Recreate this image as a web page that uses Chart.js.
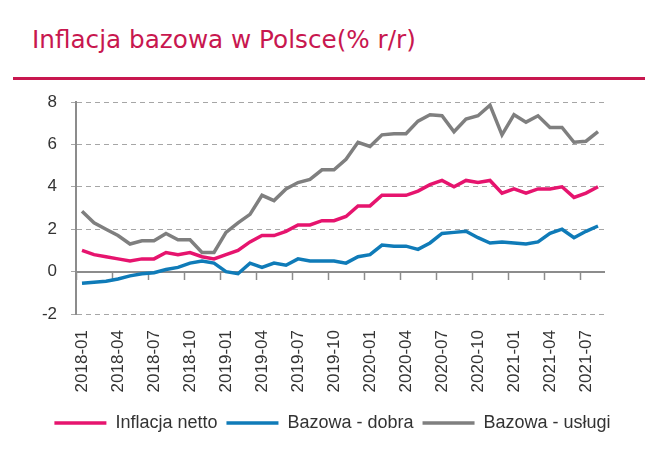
<!DOCTYPE html>
<html><head><meta charset="utf-8">
<script src="https://cdn.jsdelivr.net/npm/chart.js@4"></script>
<style>
html,body{margin:0;padding:0;background:#fff;}
#wrap{position:relative;width:653px;height:450px;overflow:hidden;background:#fff;}
#title{position:absolute;left:32px;top:26px;font-family:"DejaVu Sans";font-size:24.7px;line-height:28px;color:#c8174f;white-space:nowrap;}
#rule{position:absolute;left:13px;top:77px;width:632px;height:3px;background:#c8174f;}
canvas{position:absolute;left:0;top:0;}
</style></head><body>
<div id="wrap">
<div id="title">Inflacja bazowa w Polsce(% r/r)</div>
<div id="rule"></div>
<canvas id="c" width="653" height="450"></canvas>
</div>
<script>
const months = [
  "2018-01","2018-02","2018-03","2018-04","2018-05","2018-06","2018-07","2018-08","2018-09","2018-10","2018-11","2018-12",
  "2019-01","2019-02","2019-03","2019-04","2019-05","2019-06","2019-07","2019-08","2019-09","2019-10","2019-11","2019-12",
  "2020-01","2020-02","2020-03","2020-04","2020-05","2020-06","2020-07","2020-08","2020-09","2020-10","2020-11","2020-12",
  "2021-01","2021-02","2021-03","2021-04","2021-05","2021-06","2021-07","2021-08"
];
const inflacjaNetto = [
  1.0,0.8,0.7,0.6,0.5,0.6,0.6,0.9,0.8,0.9,0.7,0.6,
  0.8,1.0,1.4,1.7,1.7,1.9,2.2,2.2,2.4,2.4,2.6,3.1,
  3.1,3.6,3.6,3.6,3.8,4.1,4.3,4.0,4.3,4.2,4.3,3.7,
  3.9,3.7,3.9,3.9,4.0,3.5,3.7,4.0
];
const bazowaDobra = [
  -0.55,-0.5,-0.45,-0.35,-0.2,-0.1,-0.05,0.1,0.2,0.4,0.5,0.4,
  0.0,-0.1,0.4,0.2,0.4,0.3,0.6,0.5,0.5,0.5,0.4,0.7,
  0.8,1.25,1.2,1.2,1.05,1.35,1.8,1.85,1.9,1.6,1.35,1.4,
  1.35,1.3,1.4,1.8,2.0,1.6,1.9,2.15
];
const bazowaUslugi = [
  2.85,2.3,2.0,1.7,1.3,1.45,1.45,1.8,1.5,1.5,0.9,0.9,
  1.85,2.3,2.7,3.6,3.35,3.9,4.2,4.35,4.8,4.8,5.3,6.1,
  5.9,6.45,6.5,6.5,7.1,7.4,7.35,6.6,7.2,7.35,7.85,6.45,
  7.4,7.05,7.35,6.8,6.8,6.1,6.15,6.6
];
const seriesNames = ["Inflacja netto","Bazowa - dobra","Bazowa - usługi"];
const seriesColors = ["#e6146e","#0f7bb8","#7f7f7f"];
const yMin = -2, yMax = 8, yStep = 2;
const labelEvery = 3;

const axisGrey = "#8c8c8c";
const gridGrey = "#a6a6a6";
const txt = "#333333";

new Chart(document.getElementById("c"), {
  type: "line",
  data: {
    labels: months,
    datasets: [inflacjaNetto, bazowaDobra, bazowaUslugi].map((d, i) => ({
      label: seriesNames[i],
      data: d,
      borderColor: seriesColors[i],
      backgroundColor: seriesColors[i],
      borderWidth: 3.5,
      pointRadius: 0,
      pointHoverRadius: 0,
      pointStyle: "line",
      tension: 0,
      fill: false
    }))
  },
  options: {
    responsive: false,
    animation: false,
    devicePixelRatio: 1,
    layout: { padding: { left: 20, right: 8, top: 102, bottom: 8 } },
    plugins: {
      tooltip: { enabled: false },
      legend: {
        position: "bottom",
        labels: {
          usePointStyle: true,
          pointStyle: "line",
          pointStyleWidth: 52,
          boxHeight: 18,
          padding: 9,
          color: txt,
          font: { family: "Liberation Sans", size: 18 }
        }
      }
    },
    scales: {
      x: {
        type: "category",
        offset: true,
        grid: { display: false, drawTicks: false },
        border: { display: false },
        ticks: {
          autoSkip: false,
          maxRotation: 90,
          minRotation: 90,
          padding: 16,
          color: txt,
          font: { family: "Liberation Sans", size: 17 },
          callback: function (v, i) { return i % labelEvery === 0 ? months[i] : ""; }
        },
        afterFit: function (s) { s.height = 91; }
      },
      x2: {
        type: "category",
        position: { y: 0 },
        offset: true,
        grid: {
          offset: true,
          drawOnChartArea: false,
          drawTicks: true,
          tickLength: 7,
          tickWidth: 1.5,
          tickColor: function (c) { return (c.index !== undefined && c.index % labelEvery === 0) ? axisGrey : "rgba(0,0,0,0)"; }
        },
        border: { display: true, color: axisGrey, width: 2 },
        ticks: { display: false, autoSkip: false }
      },
      y: {
        min: yMin,
        max: yMax,
        ticks: {
          stepSize: yStep,
          padding: 14,
          color: txt,
          font: { family: "Liberation Sans", size: 17 }
        },
        grid: { color: gridGrey, lineWidth: 1, drawTicks: true, tickLength: 5, tickColor: gridGrey },
        border: { display: true, color: axisGrey, width: 2, dash: [5, 4] },
        afterFit: function (s) { s.width = 56; }
      },
      y2: {
        position: "right",
        display: true,
        grid: { display: false, drawTicks: false },
        border: { display: false },
        ticks: { display: false },
        afterFit: function (s) { s.width = 41; }
      }
    }
  }
});
</script>
</body></html>
